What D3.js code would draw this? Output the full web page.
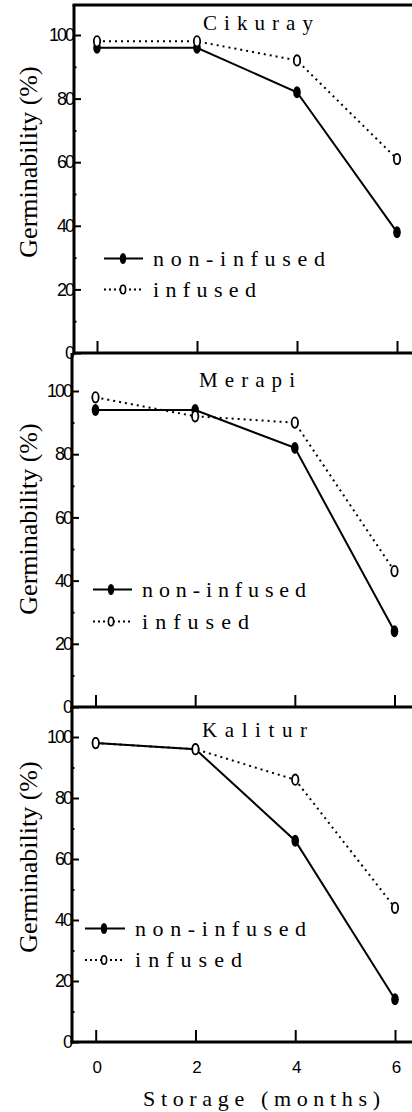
<!DOCTYPE html>
<html><head><meta charset="utf-8">
<script src="https://cdn.jsdelivr.net/npm/d3@7"></script>
<style>
html,body{margin:0;padding:0;background:#fff;}
svg{display:block;}
</style></head>
<body>
<svg id="chart" width="412" height="1112"></svg>
<script>
// ---- data ----
const months = [0, 2, 4, 6];
const cultivars = ["Cikuray", "Merapi", "Kalitur"];
const nonInfusedCikuray = [96, 96, 82, 38];
const infusedCikuray    = [98, 98, 92, 61];
const nonInfusedMerapi  = [94, 94, 82, 24];
const infusedMerapi     = [98, 92, 90, 43];
const nonInfusedKalitur = [98, 96, 66, 14];
const infusedKalitur    = [98, 96, 86, 44];
const yTicks = [0, 20, 40, 60, 80, 100];
const yMinorTicks = [10, 30, 50, 70, 90];
const xTicks = [0, 2, 4, 6];
const seriesNames = ["non-infused", "infused"];
const xTitle = "Storage (months)";
const yTitle = "Germinability (%)";

const nonInfused = [nonInfusedCikuray, nonInfusedMerapi, nonInfusedKalitur];
const infused = [infusedCikuray, infusedMerapi, infusedKalitur];

// ---- layout ----
const layout = [
  {xl:74, x0:97,   x6:397,   top:5,   y0:353,  y100:35,
   title:{x:203, y:30, len:110}, leg:{l:104, r:143, m:123, y1:258.5, y2:289.5, tx:153, len1:172, len2:103}, ytc:162},
  {xl:72, x0:95.5, x6:394.5, top:353, y0:707,  y100:391,
   title:{x:199, y:386.5, len:96}, leg:{l:93, r:132, m:111, y1:589.5, y2:621.5, tx:142, len1:164, len2:107}, ytc:519},
  {xl:72, x0:95.7, x6:395,   top:707, y0:1042, y100:737,
   title:{x:202, y:736.5, len:105}, leg:{l:85, r:125, m:104, y1:928.5, y2:960, tx:135, len1:171, len2:107}, ytc:857}
];
const W = 412;
const serif = "'Liberation Serif', 'Times New Roman', serif";
const sans = "'Liberation Sans', Arial, sans-serif";

const svg = d3.select("#chart");

layout.forEach((L, i) => {
  const g = svg.append("g");
  const x = d3.scaleLinear().domain([0, 6]).range([L.x0, L.x6]);
  const y = d3.scaleLinear().domain([0, 100]).range([L.y0, L.y100]);

  // y axis (inward ticks)
  const ya = g.append("g").attr("transform", `translate(${L.xl},0)`)
    .call(d3.axisLeft(y).tickValues(yTicks).tickSizeInner(-7).tickSizeOuter(0).tickPadding(3));
  ya.select(".domain").remove();
  ya.selectAll(".tick line").attr("stroke", "#000").attr("stroke-width", 2);
  ya.selectAll(".tick text").attr("font-family", sans).attr("font-size", 18)
    .attr("letter-spacing", "-2px").attr("fill", "#000").attr("dx", "2px");
  const ym = g.append("g").attr("transform", `translate(${L.xl},0)`)
    .call(d3.axisLeft(y).tickValues(yMinorTicks).tickSizeInner(-2.5).tickSizeOuter(0).tickFormat(""));
  ym.select(".domain").remove();
  ym.selectAll(".tick line").attr("stroke", "#000").attr("stroke-width", 2);

  // x axis (inward ticks)
  const xa = g.append("g").attr("transform", `translate(0,${L.y0})`)
    .call(d3.axisBottom(x).tickValues(xTicks).tickSizeInner(-12).tickSizeOuter(0).tickPadding(12)
      .tickFormat(i === 2 ? d3.format("d") : ""));
  xa.select(".domain").remove();
  xa.selectAll(".tick line").attr("stroke", "#000").attr("stroke-width", 2);
  xa.selectAll(".tick text").attr("font-family", sans).attr("font-size", 17).attr("fill", "#000")
    .attr("dy", "0.71em").attr("y", 19).attr("dx", "1px");

  // axis lines
  g.append("line").attr("x1", L.xl).attr("x2", L.xl).attr("y1", L.top).attr("y2", L.y0 + 1.5)
    .attr("stroke", "#000").attr("stroke-width", 3);
  g.append("line").attr("x1", L.xl - 1.5).attr("x2", W).attr("y1", L.y0).attr("y2", L.y0)
    .attr("stroke", "#000").attr("stroke-width", 3);
  if (i === 0) {
    g.append("line").attr("x1", L.xl - 1.5).attr("x2", W).attr("y1", L.top).attr("y2", L.top)
      .attr("stroke", "#000").attr("stroke-width", 3);
  }

  // lines
  const line = d3.line().x((d, j) => x(months[j])).y(d => y(d));
  g.append("path").datum(infused[i]).attr("d", line).attr("fill", "none")
    .attr("stroke", "#000").attr("stroke-width", 2).attr("stroke-dasharray", "2,4");
  g.append("path").datum(nonInfused[i]).attr("d", line).attr("fill", "none")
    .attr("stroke", "#000").attr("stroke-width", 2);

  // markers
  g.selectAll(".fm").data(nonInfused[i]).enter().append("ellipse")
    .attr("cx", (d, j) => x(months[j])).attr("cy", d => y(d))
    .attr("rx", 3.8).attr("ry", 6).attr("fill", "#000");
  g.selectAll(".hm").data(infused[i]).enter().append("ellipse")
    .attr("cx", (d, j) => x(months[j])).attr("cy", d => y(d))
    .attr("rx", 3.2).attr("ry", 5.2).attr("fill", "#fff").attr("stroke", "#000").attr("stroke-width", 1.8);

  // title
  g.append("text").attr("x", L.title.x).attr("y", L.title.y)
    .attr("font-family", serif).attr("font-size", 21)
    .attr("textLength", L.title.len).attr("lengthAdjust", "spacing").text(cultivars[i]);

  // y title
  g.append("text").attr("transform", `translate(37,${L.ytc}) rotate(-90)`)
    .attr("text-anchor", "middle").attr("font-family", serif).attr("font-size", 26)
    .text(yTitle);

  // legend
  const lg = L.leg;
  g.append("line").attr("x1", lg.l).attr("x2", lg.r).attr("y1", lg.y1).attr("y2", lg.y1)
    .attr("stroke", "#000").attr("stroke-width", 2);
  g.append("ellipse").attr("cx", lg.m).attr("cy", lg.y1).attr("rx", 3.2).attr("ry", 5.5).attr("fill", "#000");
  g.append("line").attr("x1", lg.l).attr("x2", lg.r).attr("y1", lg.y2).attr("y2", lg.y2)
    .attr("stroke", "#000").attr("stroke-width", 2).attr("stroke-dasharray", "2,3");
  g.append("ellipse").attr("cx", lg.m).attr("cy", lg.y2).attr("rx", 2.6).attr("ry", 4.2)
    .attr("fill", "#fff").attr("stroke", "#000").attr("stroke-width", 1.6);
  g.append("text").attr("x", lg.tx).attr("y", lg.y1 + 7.5).attr("font-family", serif).attr("font-size", 22)
    .attr("textLength", lg.len1).attr("lengthAdjust", "spacing").text(seriesNames[0]);
  g.append("text").attr("x", lg.tx).attr("y", lg.y2 + 7).attr("font-family", serif).attr("font-size", 22)
    .attr("textLength", lg.len2).attr("lengthAdjust", "spacing").text(seriesNames[1]);
});

// x title
svg.append("text").attr("x", 143).attr("y", 1106).attr("font-family", serif).attr("font-size", 22)
  .attr("textLength", 237).attr("lengthAdjust", "spacing").text(xTitle);
</script>
</body></html>
